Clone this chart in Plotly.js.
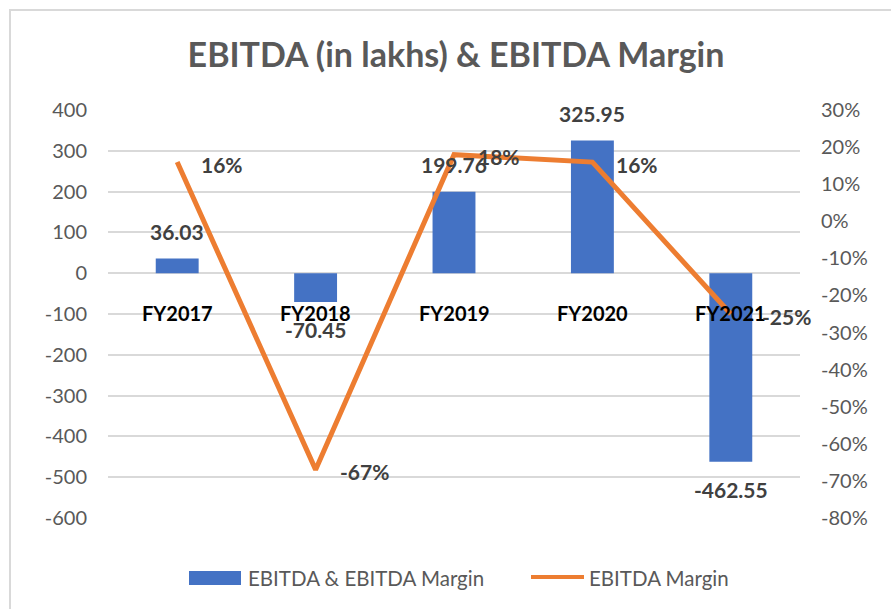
<!DOCTYPE html>
<html>
<head>
<meta charset="utf-8">
<script src="https://cdn.plot.ly/plotly-3.0.1.min.js"></script>
<style>
html,body{margin:0;padding:0;background:#fff;overflow:hidden;width:891px;height:609px;}
#chart{position:absolute;left:0;top:0;width:891px;height:609px;}
#frame{position:absolute;left:9px;top:9px;width:880px;height:598px;border-top:2px solid #d9d9d9;border-left:2px solid #d9d9d9;pointer-events:none;}
</style>
</head>
<body>
<div id="chart"></div>
<div id="frame"></div>
<script>
const categories = ["FY2017", "FY2018", "FY2019", "FY2020", "FY2021"];
const ebitda = [36.03, -70.45, 199.76, 325.95, -462.55];
const margin = [0.16, -0.67, 0.18, 0.16, -0.25];
const leftTicks = [400, 300, 200, 100, 0, -100, -200, -300, -400, -500, -600];
const rightTicks = [0.3, 0.2, 0.1, 0, -0.1, -0.2, -0.3, -0.4, -0.5, -0.6, -0.7, -0.8];
const seriesNames = ["EBITDA & EBITDA Margin", "EBITDA Margin"];

const FONT = "Lato, 'Open Sans', sans-serif";
const BLUE = "#4472C4";
const ORANGE = "#ED7D31";

const traces = [
  {
    type: "bar",
    name: seriesNames[0],
    x: categories,
    y: ebitda,
    marker: {color: BLUE},
    hoverinfo: "x+y",
    showlegend: false
  },
  {
    type: "scatter",
    mode: "lines",
    name: seriesNames[1],
    x: categories,
    y: margin,
    yaxis: "y2",
    line: {color: ORANGE, width: 5},
    hoverinfo: "x+y",
    showlegend: false
  }
];

const annotations = [];
categories.forEach((c, i) => {
  annotations.push({
    x: c, y: 0, xref: "x", yref: "y", yshift: -40,
    text: "<b>" + c + "</b>", showarrow: false,
    font: {family: FONT, size: 20, color: "#000000"},
    xanchor: "center", yanchor: "middle"
  });
  const v = ebitda[i];
  annotations.push({
    x: c, y: v, xref: "x", yref: "y", yshift: v >= 0 ? 27 : -28,
    text: "<b>" + v.toFixed(2) + "</b>", showarrow: false,
    font: {family: FONT, size: 21, color: "#404040"},
    xanchor: "center", yanchor: "middle"
  });
  const m = margin[i];
  annotations.push({
    x: c, y: m, xref: "x", yref: "y2", xshift: i === 4 ? 29 : 22, yshift: -2,
    text: "<b>" + Math.round(m * 100) + "%</b>", showarrow: false,
    font: {family: FONT, size: 21, color: "#404040"},
    xanchor: "left", yanchor: "middle"
  });
});

// custom legend (plot area: x 108..800, y 110..518 px)
const PX = px => (px - 108) / 692;
const PY = py => (518 - py) / 408;
annotations.push({
  xref: "paper", yref: "paper", x: PX(246), y: PY(578),
  text: seriesNames[0], showarrow: false,
  font: {family: FONT, size: 20.5, color: "#595959"},
  xanchor: "left", yanchor: "middle"
});
annotations.push({
  xref: "paper", yref: "paper", x: PX(587), y: PY(578),
  text: seriesNames[1], showarrow: false,
  font: {family: FONT, size: 20.5, color: "#595959"},
  xanchor: "left", yanchor: "middle"
});
const shapes = [
  {type: "rect", xref: "paper", yref: "paper",
   x0: PX(189), x1: PX(241), y0: PY(585), y1: PY(571),
   fillcolor: BLUE, line: {width: 0}},
  {type: "line", xref: "paper", yref: "paper",
   x0: PX(531), x1: PX(584), y0: PY(577), y1: PY(577),
   line: {color: ORANGE, width: 4, cap: "round"}}
];

const layout = {
  width: 891, height: 609,
  margin: {l: 108, r: 91, t: 110, b: 91, pad: 0},
  paper_bgcolor: "#ffffff", plot_bgcolor: "#ffffff",
  title: {
    text: "<b>EBITDA (in lakhs) & EBITDA Margin</b>",
    font: {family: FONT, size: 34, color: "#595959"},
    x: 456 / 891, xanchor: "center", y: 1 - 55 / 609, yanchor: "middle", yref: "container"
  },
  bargap: 0.69,
  xaxis: {
    type: "category",
    range: [-0.5, categories.length - 0.5],
    showticklabels: false, showgrid: false, zeroline: false, showline: false,
    fixedrange: true
  },
  yaxis: {
    range: [-600.5, 400.5],
    tickvals: leftTicks,
    ticktext: leftTicks.map(String),
    showgrid: true, gridcolor: "#d9d9d9", gridwidth: 1.5,
    zeroline: false, showline: false,
    ticks: "", ticklabelstandoff: 20,
    tickfont: {family: FONT, size: 20, color: "#595959"}
  },
  yaxis2: {
    overlaying: "y", side: "right",
    range: [-0.8005, 0.3005],
    tickvals: rightTicks,
    ticktext: rightTicks.map(t => Math.round(t * 100) + "%"),
    showgrid: false, zeroline: false, showline: false,
    ticks: "", ticklabelstandoff: 20,
    tickfont: {family: FONT, size: 20, color: "#595959"}
  },
  annotations: annotations,
  shapes: shapes,
  showlegend: false
};

Plotly.newPlot("chart", traces, layout, {displayModeBar: false, responsive: false});
</script>
</body>
</html>
